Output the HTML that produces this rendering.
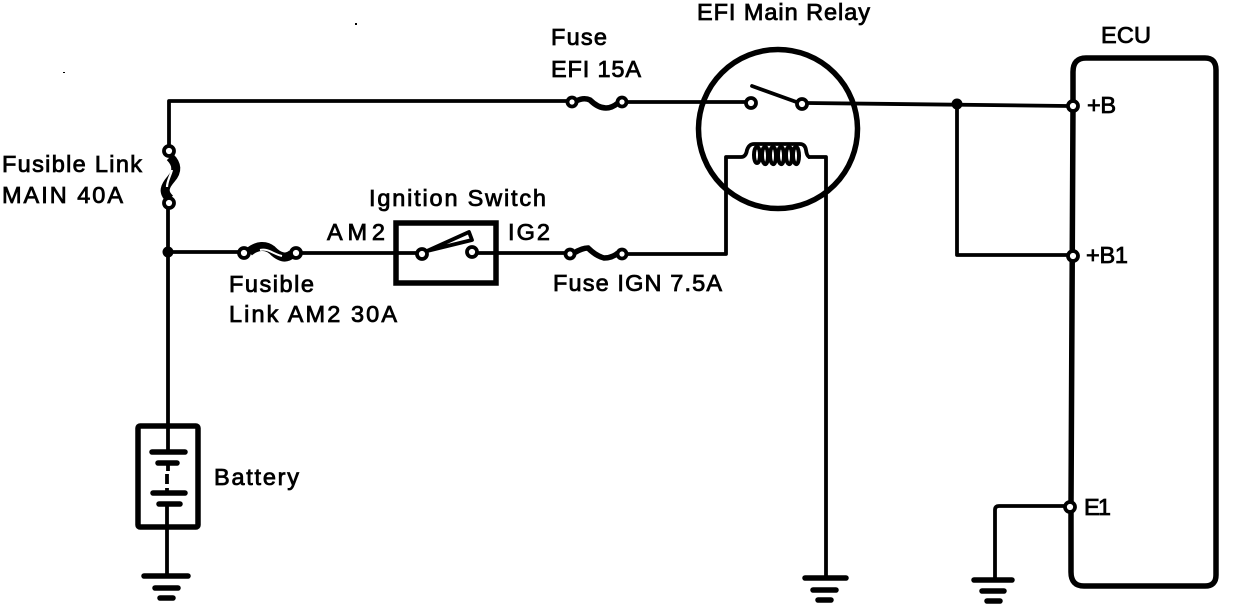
<!DOCTYPE html>
<html>
<head>
<meta charset="utf-8">
<style>
html,body{margin:0;padding:0;background:#fff;width:1248px;height:604px;overflow:hidden}
svg{display:block}
text{font-family:"Liberation Sans",sans-serif;font-size:23.5px;fill:#000;stroke:#000;stroke-width:.8px}
.w{fill:none;stroke:#000;stroke-width:3.8;stroke-linejoin:round}
.c{fill:#fff;stroke:#000;stroke-width:3.8}
.b{fill:none;stroke:#000;stroke-width:5.5;stroke-linecap:round}
</style>
</head>
<body>
<svg width="1248" height="604" viewBox="0 0 1248 604" xmlns="http://www.w3.org/2000/svg">
<!-- wires -->
<path class="w" d="M169 148V101H570"/>
<path class="w" d="M168 206V426"/>
<path class="w" d="M168 252H240"/>
<path class="w" d="M300 253H418"/>
<path class="w" d="M477 253H566"/>
<path class="w" d="M627 254H726V157H741"/>
<path class="w" d="M627 102H746"/>
<path class="w" d="M807 103L1069 106"/>
<path class="w" d="M957 104V255H1068"/>
<path class="w" d="M1066 506H999Q995 506 995 510V578"/>
<path class="w" d="M808 157H826V577"/>
<circle cx="168" cy="252" r="5.5"/>
<circle cx="957" cy="104" r="5.5"/>

<!-- relay -->
<circle cx="778" cy="129" r="79.5" fill="none" stroke="#000" stroke-width="5.5"/>
<path class="w" d="M752 86L802 104" stroke-linecap="round"/>
<path class="w" d="M741 157Q746 157 747 150Q749 144 754 144H800Q805 144 806 150Q807 157 810 157"/>
<path d="M757 147c-4 0-4 16 0 16s4-16 0-16zm8 0c-4 0-4 16 0 17s4-17 0-17zm8 0c-4 0-4 16 0 17s4-17 0-17zm8 0c-4 0-4 16 0 17s4-17 0-17zm8 0c-4 0-4 16 0 17s4-17 0-17zm7 0c-4 0-4 16 0 17s4-17 0-17z" fill="none" stroke="#000" stroke-width="4"/>
<circle class="c" cx="751" cy="103" r="5"/>
<circle class="c" cx="802" cy="104" r="5"/>

<!-- fuse EFI -->
<path d="M576 101Q584 97 590 100Q598 108 606 108Q612 108 618 103" fill="none" stroke="#000" stroke-width="5.5"/>
<circle class="c" cx="572" cy="102" r="4.5"/>
<circle class="c" cx="622" cy="102" r="4.5"/>
<!-- fuse IGN -->
<path d="M574 253Q582 248 588 248Q596 256 604 258Q612 258 618 253" fill="none" stroke="#000" stroke-width="5.5"/>
<circle class="c" cx="570" cy="254" r="4.5"/>
<circle class="c" cx="622" cy="254" r="4.5"/>
<!-- fusible AM2 -->
<path d="M249 252C257 245 266 245 272 250C278 256 285 260 292 254" fill="none" stroke="#000" stroke-width="9"/>
<path d="M260 250C268 248 273 254 282 256" fill="none" stroke="#fff" stroke-width="2"/>
<circle class="c" cx="244" cy="253" r="5"/>
<circle class="c" cx="296" cy="253" r="5"/>
<!-- fusible MAIN -->
<path d="M170 157C178 165 177 172 171 179C165 186 162 192 170 199" fill="none" stroke="#000" stroke-width="9"/>
<path d="M172 170C170 177 167 181 167 187" fill="none" stroke="#fff" stroke-width="2.2"/>
<circle class="c" cx="169" cy="151" r="5"/>
<circle class="c" cx="169" cy="203" r="5"/>

<!-- ignition switch -->
<rect x="396" y="223" width="100" height="60" fill="none" stroke="#000" stroke-width="5.5"/>
<path d="M427 251L469 232L472 240Z" fill="#fff" stroke="#000" stroke-width="3.8" stroke-linejoin="round"/>
<circle class="c" cx="422" cy="254" r="5"/>
<circle class="c" cx="472" cy="252" r="5"/>

<!-- battery -->
<rect x="138" y="426" width="60" height="101" fill="none" stroke="#000" stroke-width="5.5" rx="2"/>
<path class="w" d="M168 426V452"/>
<path class="b" d="M152 452H185"/>
<path class="b" d="M158 463H177"/>
<path class="w" d="M168 463V471M167 474V484M167 488V493"/>
<path class="b" d="M153 493H185"/>
<path class="b" d="M159 504H180"/>
<path class="w" d="M167 504V576"/>

<!-- grounds -->
<path class="b" d="M144 576H188M155 588H178M160 598H173"/>
<path class="b" d="M805 578H846M813 590H836M818 600H831"/>
<path class="b" d="M974 580H1012M982 591H1004M987 601H1000"/>

<!-- ECU -->
<path d="M1073 106V72Q1073 58 1086 58H1205Q1216 58 1216 70V575Q1216 586 1205 586H1084Q1071 586 1071 572V507Z" fill="none" stroke="#000" stroke-width="5.5"/>
<circle class="c" cx="1073" cy="106" r="5"/>
<circle class="c" cx="1073" cy="256" r="5"/>
<circle class="c" cx="1070" cy="507" r="5"/>

<!-- specks -->
<rect x="355" y="23" width="2" height="2"/>
<rect x="63" y="72" width="2" height="1"/>

<!-- labels -->
<text x="697" y="20" textLength="173">EFI Main Relay</text>
<text x="551" y="45" textLength="56">Fuse</text>
<text x="551" y="77" textLength="90">EFI 15A</text>
<text x="1101" y="43" textLength="50">ECU</text>
<text x="1087" y="113" textLength="29">+B</text>
<text x="1086" y="263" textLength="42">+B1</text>
<text x="1084" y="515" textLength="27">E1</text>
<text x="2" y="172" textLength="140">Fusible Link</text>
<text x="2" y="203" textLength="121">MAIN 40A</text>
<text x="369" y="206" textLength="177">Ignition Switch</text>
<text x="327" y="240" textLength="58">AM2</text>
<text x="508" y="240" textLength="42">IG2</text>
<text x="229" y="292" textLength="85">Fusible</text>
<text x="229" y="322" textLength="168">Link AM2 30A</text>
<text x="553" y="291" textLength="169">Fuse IGN 7.5A</text>
<text x="214" y="485" textLength="85">Battery</text>
</svg>
</body>
</html>
